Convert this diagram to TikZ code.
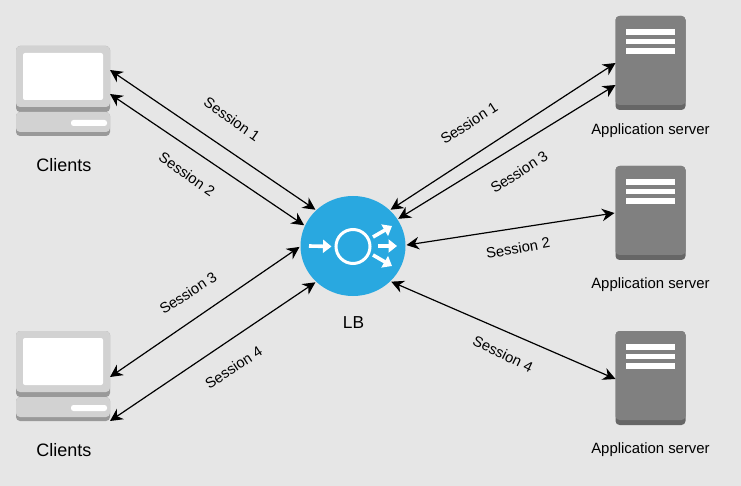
\documentclass[tikz,border=0pt]{standalone}
\usepackage{fontspec}
\setmainfont{Liberation Sans}
\usetikzlibrary{arrows.meta,shapes.geometric}
\definecolor{bggray}{HTML}{E6E6E6}
\definecolor{lightpart}{HTML}{D2D2D2}
\definecolor{darkpart}{HTML}{999999}
\definecolor{srvgray}{HTML}{808080}
\definecolor{srvdark}{HTML}{666666}
\definecolor{lbblue}{HTML}{29A8E0}
\tikzset{
  box/.style={rectangle,inner sep=0pt,outer sep=0pt,rounded corners=#1},
  box/.default=4pt,
  conn/.style={<->,>={Stealth[length=12.5pt,width=12.5pt,inset=4pt]},line width=1.2pt},
  whitearrow/.style={-{Triangle[length=8.5pt,width=13pt]},white,line width=3.6pt},
  session/.style={font=\fontsize{14.7}{16}\selectfont,inner sep=0pt},
  caption/.style={font=\fontsize{18}{20}\selectfont,inner sep=0pt},
  srvcaption/.style={font=\fontsize{14.9}{16}\selectfont,inner sep=0pt},
  client/.pic={
    \node[box,fill=darkpart,minimum width=94pt,minimum height=66pt] (mon) at (0,0) {};
    \node[box,fill=lightpart,minimum width=94pt,minimum height=61pt] (monlight) at (0,-2.5) {};
    \node[box=2pt,fill=white,minimum width=80pt,minimum height=47pt] (screen) at (0,-2.5) {};
    \node[box,fill=darkpart,minimum width=94pt,minimum height=24pt] (bar) at (0,45) {};
    \node[box,fill=lightpart,minimum width=94pt,minimum height=20pt] (barlight) at (0,43) {};
    \node[box=2.5pt,fill=white,minimum width=36pt,minimum height=6pt] (slot) at (26,44) {};
  },
  server/.pic={
    \node[box,fill=srvdark,minimum width=70pt,minimum height=94pt] (body) at (0,0) {};
    \node[box,fill=srvgray,minimum width=70pt,minimum height=89pt] (bodylight) at (0,-2.5) {};
    \foreach \y in {-31,-21.5,-12}
      \node[box=0pt,fill=white,minimum width=49pt,minimum height=5.5pt] at (0,\y) {};
  }
}
\begin{document}
\begin{tikzpicture}[x=1pt,y=-1pt]
  \useasboundingbox[fill=bggray] (0,0) rectangle (741,486);

  \pic (cltA) at (63,79) {client};
  \pic (cltB) at (63,364) {client};
  \pic (srvA) at (650.5,63) {server};
  \pic (srvB) at (650.5,213) {server};
  \pic (srvC) at (650.5,378) {server};

  \node[ellipse,fill=lbblue,minimum width=105pt,minimum height=100pt,inner sep=0pt,outer sep=1pt] (lb) at (353,246) {};
  \node[circle,draw=white,line width=3pt,minimum size=34pt,inner sep=0pt] (ring) at (353,246.5) {};
  \draw[whitearrow] (309,246) -- ([xshift=-3pt]ring.west);
  \draw[whitearrow] (373,237) -- (392,226);
  \draw[whitearrow] (378,246) -- (397,246);
  \draw[whitearrow] (373,255) -- (392,266);

  \node[caption] (cltAlabel) at (64,165) {Clients};
  \node[caption] (cltBlabel) at (64,450) {Clients};
  \node[caption,font=\fontsize{17.3}{20}\selectfont] (lblabel) at (353.5,323) {LB};
  \node[srvcaption] (srvAlabel) at (650.5,131) {Application server};
  \node[srvcaption] (srvBlabel) at (650.5,285) {Application server};
  \node[srvcaption] (srvClabel) at (650.5,450) {Application server};

  \draw[conn] ([yshift=9pt]cltAmon.east) -- (lb.136);
  \draw[conn] ([yshift=-15pt]cltAmon.east) -- (lb.157);
  \draw[conn] ([yshift=-13pt]cltBmon.east) -- (lb.181);
  \draw[conn] ([yshift=-12pt]cltBbar.east) -- (lb.224);
  \draw[conn] (srvAbody.west) -- (lb.44);
  \draw[conn] ([yshift=-22pt]srvAbody.west) -- (lb.31);
  \draw[conn] ([xshift=-1pt]srvBbody.west) -- (lb.1);
  \draw[conn] ([yshift=-1pt]srvCbody.west) -- (lb.317);

  \node[session,rotate=-35] (sessA) at (232,119) {Session 1};
  \node[session,rotate=-35] (sessB) at (187,174) {Session 2};
  \node[session,rotate=33] (sessC) at (188,293) {Session 3};
  \node[session,rotate=33] (sessD) at (233.5,367.5) {Session 4};
  \node[session,rotate=33] (sessE) at (469,123) {Session 1};
  \node[session,rotate=33] (sessF) at (519,172) {Session 3};
  \node[session,rotate=10] (sessG) at (518,248) {Session 2};
  \node[session,rotate=-26] (sessH) at (503,354) {Session 4};
\end{tikzpicture}
\end{document}
